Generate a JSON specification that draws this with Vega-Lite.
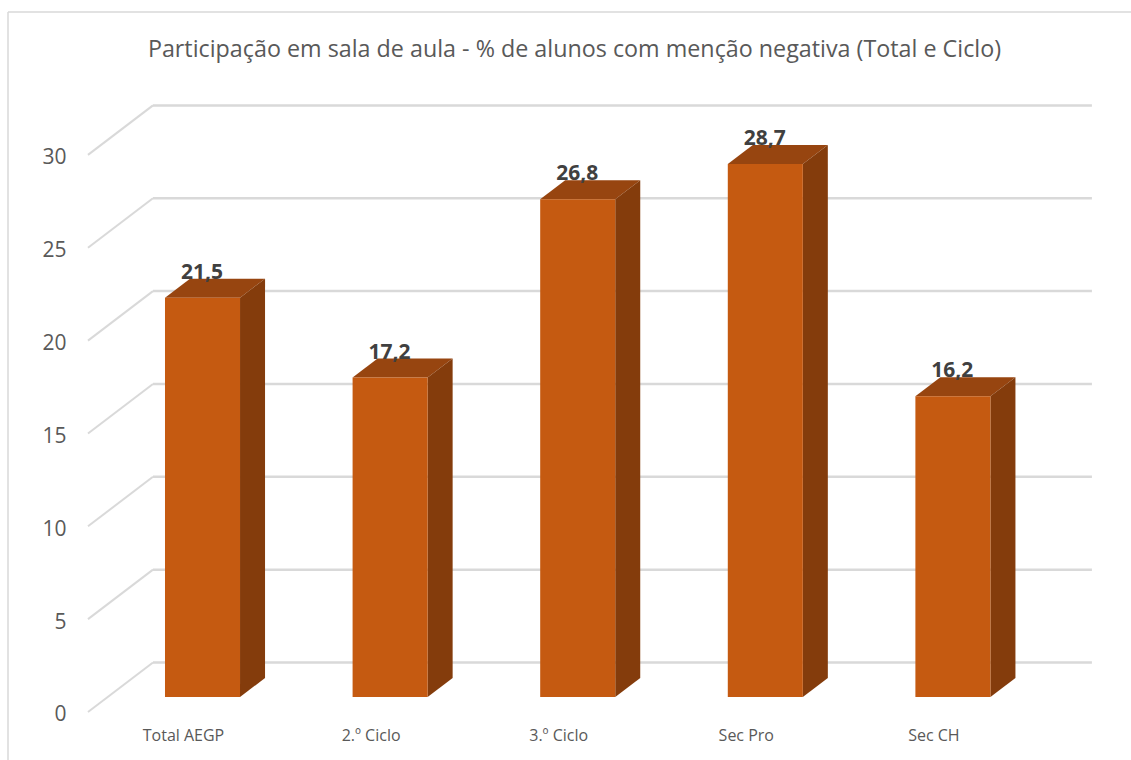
{
  "$schema": "https://vega.github.io/schema/vega-lite/v6.json",
  "width": 1131,
  "height": 760,
  "padding": 0,
  "autosize": {"type": "none"},
  "background": "white",
  "view": {"stroke": null},
  "title": {"text": "Participação em sala de aula - % de alunos com menção negativa (Total e Ciclo)", "anchor": "middle", "frame": "group", "offset": 0, "dx": 9, "dy": 80, "baseline": "alphabetic", "font": "Open Sans", "fontSize": 23.3, "fontWeight": "normal", "color": "#595959"},
  "datasets": {
    "bars": [
      {"cat": "Total AEGP", "pos": 0, "value": 21.5},
      {"cat": "2.º Ciclo", "pos": 1, "value": 17.2},
      {"cat": "3.º Ciclo", "pos": 2, "value": 26.8},
      {"cat": "Sec Pro", "pos": 3, "value": 28.7},
      {"cat": "Sec CH", "pos": 4, "value": 16.2}
    ],
    "ticks": [{"tick": 0}, {"tick": 5}, {"tick": 10}, {"tick": 15}, {"tick": 20}, {"tick": 25}, {"tick": 30}]
  },
  "encoding": {
    "x": {"field": "x", "type": "quantitative", "title": null,
      "scale": {"domain": [-0.97548, 5.0533], "nice": false, "zero": false},
      "axis": {"values": [0, 1, 2, 3, 4], "labelExpr": "['Total AEGP','2.º Ciclo','3.º Ciclo','Sec Pro','Sec CH'][datum.value]", "grid": false, "domain": false, "ticks": false, "labelPadding": -33, "labelFont": "Open Sans", "labelFontSize": 16, "labelColor": "#595959", "labelBaseline": "top", "labelAngle": 0, "labelFlush": false, "labelOverlap": false}},
    "y": {"field": "y", "type": "quantitative", "title": null,
      "scale": {"domain": [-2.585, 38.341], "nice": false, "zero": false},
      "axis": {"values": [0, 5, 10, 15, 20, 25, 30], "grid": false, "domain": false, "ticks": false, "labelPadding": -66, "labelAlign": "right", "labelOffset": 3, "labelFont": "Open Sans", "labelFontSize": 21, "labelColor": "#595959", "labelFlush": false, "labelOverlap": false}}
  },
  "layer": [
    {
      "data": {"values": [{"edge": "left"}, {"edge": "top"}]},
      "transform": [
        {"calculate": "-0.9328", "as": "x"},
        {"calculate": "datum.edge == 'left' ? -0.9328 : 5.0533", "as": "x2"},
        {"calculate": "37.695", "as": "y"},
        {"calculate": "datum.edge == 'left' ? -2.585 : 37.695", "as": "y2"}
      ],
      "mark": {"type": "rule", "stroke": "#D9D9D9", "strokeWidth": 1.5},
      "encoding": {"x2": {"field": "x2"}, "y2": {"field": "y2"}}
    },
    {
      "data": {"name": "ticks"},
      "transform": [
        {"calculate": "-0.5064", "as": "x"},
        {"calculate": "-0.16", "as": "x2"},
        {"calculate": "datum.tick", "as": "y"},
        {"calculate": "datum.tick + 2.666", "as": "y2"}
      ],
      "mark": {"type": "rule", "stroke": "#D9D9D9", "strokeWidth": 2},
      "encoding": {"x2": {"field": "x2"}, "y2": {"field": "y2"}}
    },
    {
      "data": {"name": "ticks"},
      "transform": [
        {"calculate": "-0.16", "as": "x"},
        {"calculate": "4.845", "as": "x2"},
        {"calculate": "datum.tick + 2.666", "as": "y"}
      ],
      "mark": {"type": "rule", "stroke": "#D9D9D9", "strokeWidth": 2.5},
      "encoding": {"x2": {"field": "x2"}}
    },
    {
      "data": {"name": "bars"},
      "transform": [
        {"calculate": "[0, 1, 2, 3]", "as": "k"},
        {"flatten": ["k"]},
        {"calculate": "datum.pos + [-0.096, 0.0373, 0.304, 0.4373][datum.k]", "as": "x"},
        {"calculate": "datum.value + 0.808 + [0, 0, 0, 1.023][datum.k]", "as": "y"},
        {"calculate": "datum.value + 0.808 + [0, 1.023, 1.023, 1.023][datum.k]", "as": "y2"}
      ],
      "mark": {"type": "area", "color": "#974510", "interpolate": "linear"},
      "encoding": {"y2": {"field": "y2"}, "detail": {"field": "cat"}}
    },
    {
      "data": {"name": "bars"},
      "transform": [
        {"calculate": "[0, 1]", "as": "k"},
        {"flatten": ["k"]},
        {"calculate": "datum.pos + 0.304 + 0.1333 * datum.k", "as": "x"},
        {"calculate": "0.808 + 1.023 * datum.k", "as": "y"},
        {"calculate": "datum.value + 0.808 + 1.023 * datum.k", "as": "y2"}
      ],
      "mark": {"type": "area", "color": "#843C0C", "interpolate": "linear"},
      "encoding": {"y2": {"field": "y2"}, "detail": {"field": "cat"}}
    },
    {
      "data": {"name": "bars"},
      "transform": [
        {"calculate": "datum.pos - 0.096", "as": "x"},
        {"calculate": "datum.pos + 0.304", "as": "x2"},
        {"calculate": "0.808", "as": "y"},
        {"calculate": "datum.value + 0.808", "as": "y2"}
      ],
      "mark": {"type": "rect", "color": "#C55A11"},
      "encoding": {"x2": {"field": "x2"}, "y2": {"field": "y2"}}
    },
    {
      "data": {"name": "bars"},
      "transform": [
        {"calculate": "datum.pos + 0.101", "as": "x"},
        {"calculate": "datum.value + 1.831", "as": "y"},
        {"calculate": "replace(format(datum.value, '.1f'), '.', ',')", "as": "label"}
      ],
      "mark": {"type": "text", "font": "Open Sans", "fontSize": 21, "fontWeight": "bold", "color": "#404040", "align": "center", "baseline": "alphabetic"},
      "encoding": {"text": {"field": "label"}}
    }
  ]
}
